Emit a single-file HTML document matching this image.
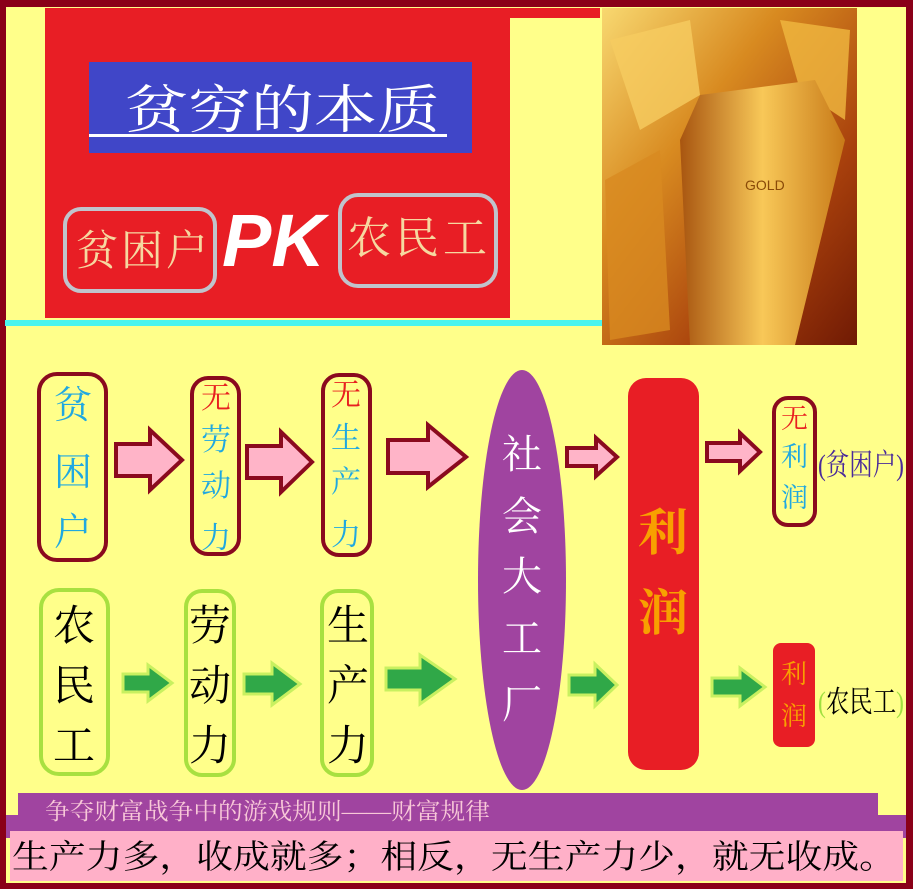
<!DOCTYPE html>
<html><head><meta charset="utf-8"><style>
body{margin:0;width:913px;height:889px;overflow:hidden;background:#ffff8a}
svg{display:block}
text{font-family:"Liberation Serif","Noto Serif CJK SC","Noto Sans CJK SC",serif}
</style></head><body>
<svg width="913" height="889" viewBox="0 0 913 889" xmlns="http://www.w3.org/2000/svg">
<defs>
<linearGradient id="g1" x1="0" y1="0" x2="1" y2="1"><stop offset="0" stop-color="#f8d870"/><stop offset="0.35" stop-color="#d88a20"/><stop offset="0.7" stop-color="#a8400c"/><stop offset="1" stop-color="#701a04"/></linearGradient>
<linearGradient id="g2" x1="0" y1="0" x2="1" y2="0"><stop offset="0" stop-color="#a85510"/><stop offset="0.5" stop-color="#f8c858"/><stop offset="1" stop-color="#c87a18"/></linearGradient>
</defs>
<rect x="0" y="0" width="913" height="889" fill="#8a0018"/>
<rect x="6" y="7" width="900" height="876" fill="#ffff8a"/>
<rect x="45" y="8" width="555" height="310" fill="#e81e25"/>
<rect x="510" y="18" width="90" height="300" fill="#ffff8a"/>
<rect x="7" y="11" width="38" height="301" fill="#ffff8a"/>
<rect x="5" y="320" width="598" height="6" fill="#4af4ee"/>
<rect x="89" y="62" width="383" height="91" fill="#4046c8"/>
<text x="125" y="128" font-size="52" fill="#fff" textLength="315" lengthAdjust="spacingAndGlyphs">贫穷的本质</text>
<rect x="89" y="134" width="358" height="3" fill="#fff"/>
<rect x="65" y="209" width="150" height="82" rx="16" fill="none" stroke="#c0c4cc" stroke-width="4"/>
<text x="76" y="265" font-size="42" fill="#f6d8a0" textLength="132">贫困户</text>
<text x="222" y="266" font-size="74" font-weight="bold" font-style="italic" fill="#fff" style="font-family:'Liberation Sans',sans-serif">PK</text>
<rect x="340" y="195" width="156" height="91" rx="18" fill="none" stroke="#c0c4cc" stroke-width="4"/>
<text x="347" y="253" font-size="44" fill="#f6d8a0" textLength="140">农民工</text>
<!-- gold -->
<rect x="602" y="8" width="255" height="337" fill="url(#g1)"/>
<polygon points="610,40 690,20 700,95 640,130" fill="#f6cc60" opacity="0.8"/>
<polygon points="780,20 850,30 845,120 800,90" fill="#f0b840" opacity="0.8"/>
<polygon points="605,180 660,150 670,330 610,340" fill="#d88a20" opacity="0.8"/>
<polygon points="700,95 815,80 845,140 795,345 690,345 680,140" fill="url(#g2)"/>
<text x="745" y="190" font-size="14" fill="#8a4a08" style="font-family:'Liberation Sans',sans-serif">GOLD</text>
<!-- row1 boxes -->
<g fill="none" stroke="#8a0a1e" stroke-width="4">
<rect x="39" y="374" width="67" height="186" rx="18"/>
<rect x="192" y="378" width="47" height="176" rx="16"/>
<rect x="323" y="375" width="47" height="180" rx="16"/>
<rect x="774" y="398" width="41" height="127" rx="14"/>
</g>
<g font-size="38" fill="#20a8e0">
<text x="54" y="418">贫</text><text x="54" y="485">困</text><text x="54" y="545">户</text>
</g>
<g font-size="30">
<text x="201" y="408" fill="#e82020">无</text><text x="201" y="450" fill="#20a8e0">劳</text><text x="201" y="496" fill="#20a8e0">动</text><text x="201" y="548" fill="#20a8e0">力</text>
<text x="331" y="405" fill="#e82020">无</text><text x="331" y="448" fill="#20a8e0">生</text><text x="331" y="492" fill="#20a8e0">产</text><text x="331" y="545" fill="#20a8e0">力</text>
</g>
<g font-size="27"><text x="781" y="428" fill="#e82020">无</text><text x="781" y="466" fill="#20a8e0">利</text><text x="781" y="507" fill="#20a8e0">润</text></g>
<text x="818" y="475" font-size="30" fill="#4a2a9a" textLength="86" lengthAdjust="spacingAndGlyphs">(贫困户)</text>
<ellipse cx="522" cy="580" rx="44" ry="210" fill="#a044a0"/>
<g font-size="40" fill="#fff"><text x="502" y="468">社</text><text x="502" y="530">会</text><text x="502" y="590">大</text><text x="502" y="652">工</text><text x="502" y="718">厂</text></g>
<rect x="628" y="378" width="71" height="392" rx="18" fill="#e81e25"/>
<g font-size="50" font-weight="bold" fill="#f8a000"><text x="638" y="550">利</text><text x="638" y="630">润</text></g>
<rect x="773" y="643" width="42" height="104" rx="8" fill="#e81e25"/>
<g font-size="26" fill="#f8a000"><text x="781" y="683">利</text><text x="781" y="725">润</text></g>
<text x="818" y="712" font-size="30" fill="#000" textLength="86" lengthAdjust="spacingAndGlyphs"><tspan fill="#a0e040">(</tspan>农民工<tspan fill="#a0e040">)</tspan></text>
<g fill="none" stroke="#a8e040" stroke-width="4">
<rect x="41" y="590" width="67" height="184" rx="18"/>
<rect x="186" y="591" width="48" height="184" rx="16"/>
<rect x="322" y="591" width="50" height="184" rx="16"/>
</g>
<g font-size="42" fill="#000">
<text x="53" y="640">农</text><text x="53" y="700">民</text><text x="53" y="760">工</text>
<text x="189" y="640">劳</text><text x="189" y="700">动</text><text x="189" y="760">力</text>
<text x="327" y="640">生</text><text x="327" y="700">产</text><text x="327" y="760">力</text>
</g>
<g fill="#ffb4c8" stroke="#8a0a1e" stroke-width="4">
<polygon points="116,444 150,444 150,430 182,460 150,490 150,476 116,476"/>
<polygon points="247,446 281,446 281,432 312,462 281,492 281,478 247,478"/>
<polygon points="388,440 428,440 428,425 466,457 428,487 428,473 388,473"/>
<polygon points="567,448 596,448 596,438 617,457 596,476 596,466 567,466"/>
<polygon points="707,443 740,443 740,433 760,452 740,471 740,461 707,461"/>
</g>
<g fill="#30a848" stroke="#c8f060" stroke-width="3">
<polygon points="123,674 148,674 148,665 172,683 148,701 148,692 123,692"/>
<polygon points="244,674 272,674 272,663 300,684 272,705 272,694 244,694"/>
<polygon points="386,668 420,668 420,655 455,679 420,704 420,690 386,690"/>
<polygon points="569,675 595,675 595,664 617,685 595,706 595,695 569,695"/>
<polygon points="712,678 740,678 740,668 765,687 740,706 740,696 712,696"/>
</g>
<rect x="18" y="793" width="860" height="40" fill="#a044a0"/>
<rect x="6" y="815" width="900" height="23" fill="#a044a0"/>
<text x="45" y="819" font-size="23" fill="#f8c8d8" textLength="445" lengthAdjust="spacingAndGlyphs">争夺财富战争中的游戏规则——财富规律</text>
<rect x="10" y="831" width="893" height="50" fill="#ffb0c8"/>
<text x="12" y="868" font-size="33" fill="#000" textLength="884" lengthAdjust="spacingAndGlyphs">生产力多，收成就多；相反，无生产力少，就无收成。</text>
</svg>
</body></html>
